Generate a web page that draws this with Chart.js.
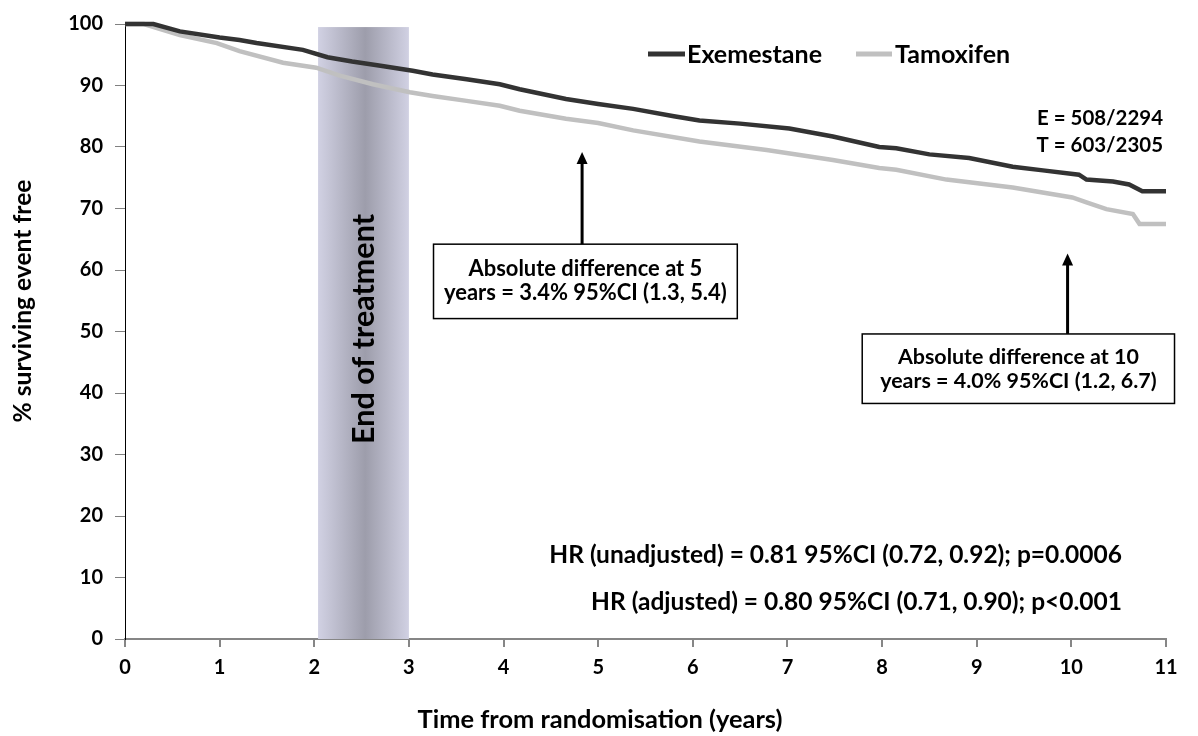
<!DOCTYPE html>
<html lang="en">
<head>
<meta charset="UTF-8">
<title>Event-free survival: Exemestane vs Tamoxifen</title>
<script src="https://cdn.jsdelivr.net/npm/chart.js@4.4.0/dist/chart.umd.min.js"></script>
<style>
  html, body { margin: 0; padding: 0; background: #fff; }
  #wrap { width: 1198px; height: 736px; position: relative; }
</style>
</head>
<body>
<div id="wrap"><canvas id="km"></canvas></div>
<script>
// Kaplan-Meier curves (years, % event free)
var exemYears = [0, 0.3, 0.58, 1.0, 1.21, 1.39, 1.88, 2.14, 2.4, 2.7, 3.04, 3.25, 3.61, 3.96, 4.17, 4.66, 5.0, 5.37, 5.8, 6.07, 6.5, 7.02, 7.48, 7.97, 8.15, 8.5, 8.92, 9.38, 9.7, 10.08, 10.16, 10.44, 10.61, 10.75, 11.0];
var exemPct   = [100, 100, 98.8, 97.8, 97.4, 96.9, 95.8, 94.6, 93.9, 93.2, 92.4, 91.8, 91.0, 90.2, 89.4, 87.8, 87.0, 86.2, 85.0, 84.3, 83.8, 83.0, 81.7, 80.0, 79.8, 78.8, 78.2, 76.8, 76.2, 75.5, 74.7, 74.4, 73.9, 72.8, 72.8];

var tamYears = [0, 0.2, 0.58, 0.97, 1.21, 1.67, 2.02, 2.27, 2.62, 3.01, 3.25, 3.61, 3.96, 4.17, 4.66, 5.0, 5.37, 6.07, 6.78, 7.48, 7.97, 8.15, 8.68, 9.38, 10.01, 10.16, 10.37, 10.65, 10.72, 11.0];
var tamPct   = [100, 100, 98.2, 96.9, 95.6, 93.7, 92.9, 91.6, 90.2, 88.9, 88.3, 87.5, 86.7, 85.9, 84.6, 83.9, 82.7, 80.9, 79.5, 77.9, 76.6, 76.3, 74.7, 73.4, 71.8, 71.0, 69.9, 69.1, 67.5, 67.5];

var seriesNames = ['Exemestane', 'Tamoxifen'];
var xTickMax = 11, yTickMax = 100;

// treatment period shading (years)
var treatBand = [2.04, 3.0];

// annotation boxes: [xFrom, xTo, yTop, yBottom] in data units, arrow [x, tipY]
var box5 = [3.26, 6.47, 64.2, 52.1];
var arrow5 = [4.83, 79.2];
var box10 = [7.79, 11.09, 49.6, 38.3];
var arrow10 = [9.96, 62.7];

var FONT = 'Lato, "Open Sans", sans-serif';

function toPoints(xs, ys) {
  return xs.map(function (x, i) { return { x: x, y: ys[i] }; });
}

// font size that makes text reach a given width
function fitSize(ctx, text, width) {
  ctx.font = 'bold 100px ' + FONT;
  return 100 * width / ctx.measureText(text).width;
}
function setFont(ctx, size) {
  ctx.font = 'bold ' + size.toFixed(2) + 'px ' + FONT;
}

function drawArrow(ctx, x, yFrom, yTip) {
  ctx.strokeStyle = '#000';
  ctx.fillStyle = '#000';
  ctx.lineWidth = 3;
  ctx.beginPath();
  ctx.moveTo(x, yFrom);
  ctx.lineTo(x, yTip + 8);
  ctx.stroke();
  ctx.beginPath();
  ctx.moveTo(x, yTip);
  ctx.lineTo(x - 5.5, yTip + 12);
  ctx.lineTo(x + 5.5, yTip + 12);
  ctx.closePath();
  ctx.fill();
}

function drawBox(ctx, xs, ys, b, lines) {
  var l = xs.getPixelForValue(b[0]), r = xs.getPixelForValue(b[1]);
  var t = ys.getPixelForValue(b[2]), bt = ys.getPixelForValue(b[3]);
  ctx.fillStyle = '#fff';
  ctx.fillRect(l, t, r - l, bt - t);
  ctx.strokeStyle = '#000';
  ctx.lineWidth = 1.5;
  ctx.strokeRect(l, t, r - l, bt - t);
  var size = fitSize(ctx, lines[0][0], lines[0][1]);
  setFont(ctx, size);
  ctx.fillStyle = '#000';
  ctx.textAlign = 'center';
  ctx.textBaseline = 'middle';
  var cx = (l + r) / 2, cy = (t + bt) / 2;
  ctx.fillText(lines[0][0], cx, cy - 12);
  ctx.fillText(lines[1][0], cx, cy + 12);
}

var decorations = {
  id: 'decorations',
  beforeDatasetsDraw: function (chart) {
    var ctx = chart.ctx, xs = chart.scales.x, ys = chart.scales.y;
    var x0 = xs.getPixelForValue(treatBand[0]), x1 = xs.getPixelForValue(treatBand[1]);
    var top = ys.getPixelForValue(99.5), bot = ys.getPixelForValue(0);
    ctx.save();
    var g = ctx.createLinearGradient(x0, 0, x1, 0);
    g.addColorStop(0, '#d1d1e3');
    g.addColorStop(0.52, '#9d9dab');
    g.addColorStop(1, '#d1d1e3');
    ctx.fillStyle = g;
    ctx.fillRect(x0, top, x1 - x0, bot - top);

    // rotated label in the band
    var txt = 'End of treatment';
    setFont(ctx, fitSize(ctx, txt, 230));
    ctx.fillStyle = '#000';
    ctx.textAlign = 'center';
    ctx.textBaseline = 'middle';
    ctx.translate(364, 329);
    ctx.rotate(-Math.PI / 2);
    ctx.fillText(txt, 0, 0);
    ctx.restore();
  },
  afterDatasetsDraw: function (chart) {
    var ctx = chart.ctx, xs = chart.scales.x, ys = chart.scales.y;
    ctx.save();

    // arrows + boxes
    drawArrow(ctx, xs.getPixelForValue(arrow5[0]), ys.getPixelForValue(box5[2]), ys.getPixelForValue(arrow5[1]));
    drawArrow(ctx, xs.getPixelForValue(arrow10[0]), ys.getPixelForValue(box10[2]), ys.getPixelForValue(arrow10[1]));
    drawBox(ctx, xs, ys, box5, [['Absolute difference at 5', 234], ['years = 3.4% 95%CI (1.3, 5.4)']]);
    drawBox(ctx, xs, ys, box10, [['Absolute difference at 10', 241], ['years = 4.0% 95%CI (1.2, 6.7)']]);

    // legend
    var colors = ['#333333', '#c0c0c0'];
    var lx = [[648, 685, 687], [856, 892, 895]];
    setFont(ctx, fitSize(ctx, seriesNames[0], 135));
    ctx.textAlign = 'left';
    ctx.textBaseline = 'middle';
    for (var i = 0; i < 2; i++) {
      ctx.strokeStyle = colors[i];
      ctx.lineWidth = 5;
      ctx.beginPath();
      ctx.moveTo(lx[i][0], 54);
      ctx.lineTo(lx[i][1], 54);
      ctx.stroke();
      ctx.fillStyle = '#000';
      ctx.fillText(seriesNames[i], lx[i][2], 55);
    }

    // event counts
    setFont(ctx, fitSize(ctx, 'E = 508/2294', 126));
    ctx.textAlign = 'right';
    ctx.fillText('E = 508/2294', 1163, 118);
    ctx.fillText('T = 603/2305', 1163, 145);

    // hazard ratios
    setFont(ctx, fitSize(ctx, 'HR (unadjusted) = 0.81 95%CI (0.72, 0.92); p=0.0006', 573));
    ctx.fillText('HR (unadjusted) = 0.81 95%CI (0.72, 0.92); p=0.0006', 1122, 555);
    ctx.fillText('HR (adjusted) = 0.80 95%CI (0.71, 0.90); p<0.001', 1122, 602);

    // axis titles
    ctx.textAlign = 'center';
    setFont(ctx, fitSize(ctx, 'Time from randomisation (years)', 365));
    ctx.fillText('Time from randomisation (years)', 600, 720);
    setFont(ctx, fitSize(ctx, '% surviving event free', 243));
    ctx.translate(23, 301);
    ctx.rotate(-Math.PI / 2);
    ctx.fillText('% surviving event free', 0, 0);
    ctx.restore();
  }
};

var ctx = document.getElementById('km').getContext('2d');
var chart = new Chart(ctx, {
  type: 'line',
  data: {
    datasets: [{
      label: seriesNames[1],
      data: toPoints(tamYears, tamPct),
      borderColor: '#c0c0c0',
      borderWidth: 4.5,
      pointRadius: 0,
      tension: 0,
      clip: 5,
      order: 2
    }, {
      label: seriesNames[0],
      data: toPoints(exemYears, exemPct),
      borderColor: '#333333',
      borderWidth: 4.5,
      pointRadius: 0,
      tension: 0,
      clip: 5,
      order: 1
    }]
  },
  options: {
    responsive: true,
    maintainAspectRatio: false,
    animation: false,
    layout: { padding: { top: 16, right: 32, left: 0, bottom: 0 } },
    plugins: { legend: { display: false }, tooltip: { enabled: false } },
    scales: {
      x: {
        type: 'linear',
        min: 0, max: xTickMax,
        ticks: { stepSize: 1, padding: 9, color: '#000', font: { family: FONT, size: 20, weight: 'bold' } },
        grid: { drawOnChartArea: false, drawTicks: true, tickLength: 8, color: '#868686', lineWidth: 2 },
        border: { color: '#868686', width: 2 },
        afterFit: function (s) { s.height = 97; }
      },
      y: {
        min: 0, max: yTickMax,
        ticks: { stepSize: 10, padding: 12, color: '#000', font: { family: FONT, size: 20, weight: 'bold' } },
        grid: { drawOnChartArea: false, drawTicks: true, tickLength: 10, color: '#808080', lineWidth: 1 },
        border: { color: '#000', width: 1 },
        afterFit: function (s) { s.width = 125; }
      }
    }
  },
  plugins: [decorations]
});
</script>
</body>
</html>
